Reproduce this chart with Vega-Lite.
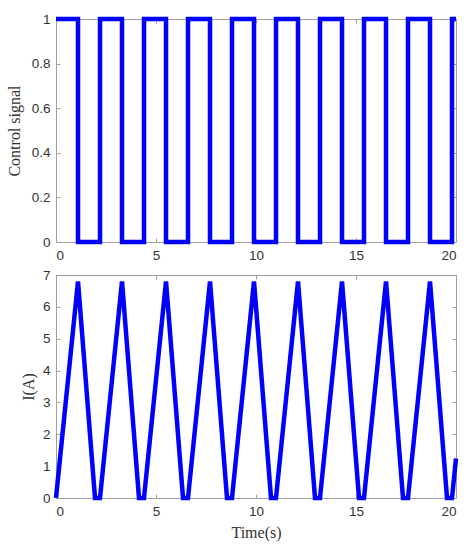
{
  "$schema": "https://vega.github.io/schema/vega-lite/v6.json",
  "padding": {"left": 5, "top": 9, "right": 10, "bottom": 5},
  "spacing": 33,
  "bounds": "flush",
  "datasets": {
    "ctrl": [
      {"i": 0, "t": 0, "v": 1}, {"i": 1, "t": 1.1, "v": 1}, {"i": 2, "t": 1.1, "v": 0}, {"i": 3, "t": 2.2, "v": 0},
      {"i": 4, "t": 2.2, "v": 1}, {"i": 5, "t": 3.3, "v": 1}, {"i": 6, "t": 3.3, "v": 0}, {"i": 7, "t": 4.4, "v": 0},
      {"i": 8, "t": 4.4, "v": 1}, {"i": 9, "t": 5.5, "v": 1}, {"i": 10, "t": 5.5, "v": 0}, {"i": 11, "t": 6.6, "v": 0},
      {"i": 12, "t": 6.6, "v": 1}, {"i": 13, "t": 7.7, "v": 1}, {"i": 14, "t": 7.7, "v": 0}, {"i": 15, "t": 8.8, "v": 0},
      {"i": 16, "t": 8.8, "v": 1}, {"i": 17, "t": 9.9, "v": 1}, {"i": 18, "t": 9.9, "v": 0}, {"i": 19, "t": 11.0, "v": 0},
      {"i": 20, "t": 11.0, "v": 1}, {"i": 21, "t": 12.1, "v": 1}, {"i": 22, "t": 12.1, "v": 0}, {"i": 23, "t": 13.2, "v": 0},
      {"i": 24, "t": 13.2, "v": 1}, {"i": 25, "t": 14.3, "v": 1}, {"i": 26, "t": 14.3, "v": 0}, {"i": 27, "t": 15.4, "v": 0},
      {"i": 28, "t": 15.4, "v": 1}, {"i": 29, "t": 16.5, "v": 1}, {"i": 30, "t": 16.5, "v": 0}, {"i": 31, "t": 17.6, "v": 0},
      {"i": 32, "t": 17.6, "v": 1}, {"i": 33, "t": 18.7, "v": 1}, {"i": 34, "t": 18.7, "v": 0}, {"i": 35, "t": 19.8, "v": 0},
      {"i": 36, "t": 19.8, "v": 1}, {"i": 37, "t": 20, "v": 1}
    ],
    "cur": [
      {"t": 0, "a": 0}, {"t": 1.1, "a": 6.8}, {"t": 1.95, "a": 0}, {"t": 2.2, "a": 0},
      {"t": 3.3, "a": 6.8}, {"t": 4.15, "a": 0}, {"t": 4.4, "a": 0},
      {"t": 5.5, "a": 6.8}, {"t": 6.35, "a": 0}, {"t": 6.6, "a": 0},
      {"t": 7.7, "a": 6.8}, {"t": 8.55, "a": 0}, {"t": 8.8, "a": 0},
      {"t": 9.9, "a": 6.8}, {"t": 10.75, "a": 0}, {"t": 11.0, "a": 0},
      {"t": 12.1, "a": 6.8}, {"t": 12.95, "a": 0}, {"t": 13.2, "a": 0},
      {"t": 14.3, "a": 6.8}, {"t": 15.15, "a": 0}, {"t": 15.4, "a": 0},
      {"t": 16.5, "a": 6.8}, {"t": 17.35, "a": 0}, {"t": 17.6, "a": 0},
      {"t": 18.7, "a": 6.8}, {"t": 19.55, "a": 0}, {"t": 19.8, "a": 0},
      {"t": 20, "a": 1.24}
    ]
  },
  "config": {
    "view": {"stroke": "#a0a0a0", "strokeWidth": 1},
    "axis": {
      "grid": false,
      "domain": false,
      "tickColor": "#a0a0a0",
      "tickSize": -4,
      "labelFont": "Liberation Sans",
      "labelFontSize": 13.5,
      "labelColor": "#333333",
      "labelPadding": 10,
      "format": "~g",
      "titleFont": "Liberation Serif",
      "titleFontSize": 16,
      "titleFontWeight": "normal",
      "titleColor": "#333333"
    }
  },
  "vconcat": [
    {
      "width": 400,
      "height": 223,
      "data": {"name": "ctrl"},
      "layer": [
        {
          "mark": {"type": "line", "color": "#0000ff", "strokeWidth": 4.5, "strokeJoin": "miter"},
          "encoding": {
            "x": {"field": "t", "type": "quantitative", "scale": {"domain": [0, 20], "nice": false}, "axis": {"values": [0, 5, 10, 15, 20], "title": null}},
            "y": {"field": "v", "type": "quantitative", "scale": {"domain": [0, 1], "nice": false}, "axis": {"values": [0, 0.2, 0.4, 0.6, 0.8, 1], "title": "Control signal", "titlePadding": 9}},
            "order": {"field": "i"}
          }
        },
        {
          "mark": {"type": "point", "opacity": 0},
          "encoding": {
            "x": {"field": "t", "type": "quantitative", "axis": {"orient": "top", "values": [0, 5, 10, 15, 20], "labels": false, "title": null}},
            "y": {"field": "v", "type": "quantitative", "axis": {"orient": "right", "values": [0, 0.2, 0.4, 0.6, 0.8, 1], "labels": false, "title": null}}
          }
        }
      ],
      "resolve": {"axis": {"x": "independent", "y": "independent"}}
    },
    {
      "width": 400,
      "height": 223,
      "data": {"name": "cur"},
      "layer": [
        {
          "mark": {"type": "line", "color": "#0000ff", "strokeWidth": 4.5},
          "encoding": {
            "x": {"field": "t", "type": "quantitative", "scale": {"domain": [0, 20], "nice": false}, "axis": {"values": [0, 5, 10, 15, 20], "title": "Time(s)", "titlePadding": 7}},
            "y": {"field": "a", "type": "quantitative", "scale": {"domain": [0, 7], "nice": false}, "axis": {"values": [0, 1, 2, 3, 4, 5, 6, 7], "title": "I(A)", "titlePadding": 6}}
          }
        },
        {
          "mark": {"type": "point", "opacity": 0},
          "encoding": {
            "x": {"field": "t", "type": "quantitative", "axis": {"orient": "top", "values": [0, 5, 10, 15, 20], "labels": false, "title": null}},
            "y": {"field": "a", "type": "quantitative", "axis": {"orient": "right", "values": [0, 1, 2, 3, 4, 5, 6, 7], "labels": false, "title": null}}
          }
        }
      ],
      "resolve": {"axis": {"x": "independent", "y": "independent"}}
    }
  ]
}
